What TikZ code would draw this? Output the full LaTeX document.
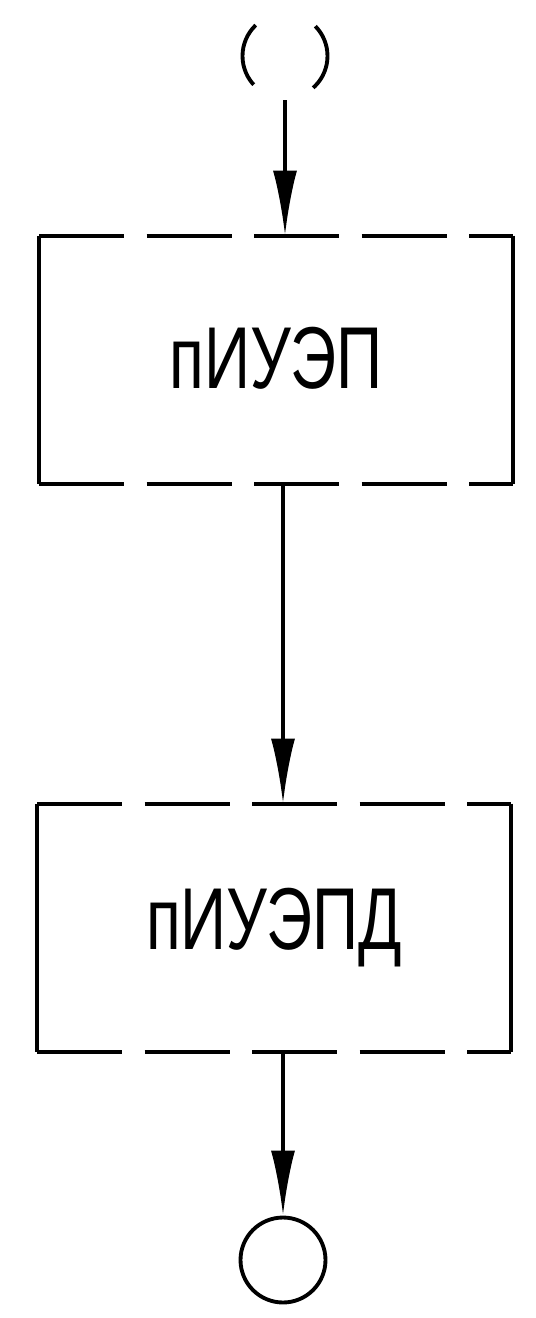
\documentclass[tikz,border=0pt]{standalone}
\usepackage{fontspec}
\setmainfont{Liberation Sans}
\usetikzlibrary{arrows.meta}
\tikzset{
  flowbox/.style={minimum width=9.4cm, minimum height=4.9cm, inner sep=0pt,
    font=\fontsize{50}{58}\selectfont},
  term/.style={circle, draw, minimum size=1.7cm, inner sep=0pt},
  flow/.style={-{Latex[length=1.3cm,width=0.48cm]}},
  brk/.style={dash pattern=on 1.7cm off 0.45cm},
}
\newcommand\narrowtxt[1]{\scalebox{0.73}[1]{#1}}

\begin{document}
\begin{tikzpicture}[x=0.02cm, y=-0.02cm, line width=2.2pt]
  \useasboundingbox (0,0) rectangle (536,1318);

  %terminals and blocks
  \node[term, dash pattern=on 1.32cm off 1.32cm, dash phase=0.66cm] (start) at (285,56) {};
  \node[flowbox] (piuep) at (276,360) {\raisebox{0.1cm}{\narrowtxt{пИУЭП}}};
  \node[flowbox] (piuepd) at (274,928) {\narrowtxt{пИУЭПД}};
  \node[term] (stop) at (283,1260) {};

  %block outlines (broken top and bottom edges)
  \draw (piuep.north west) -- (piuep.south west) (piuep.north east) -- (piuep.south east);
  \draw[brk] (piuep.north west) -- (piuep.north east) (piuep.south west) -- (piuep.south east);
  \draw (piuepd.north west) -- (piuepd.south west) (piuepd.north east) -- (piuepd.south east);
  \draw[brk] (piuepd.north west) -- (piuepd.north east) (piuepd.south west) -- (piuepd.south east);

  %flow lines
  \draw[flow] (start) -- (start |- piuep.north);
  \draw[flow] (piuep.south -| stop) -- (piuepd.north -| stop);
  \draw[flow] (piuepd.south -| stop) -- (stop);
\end{tikzpicture}
\end{document}
